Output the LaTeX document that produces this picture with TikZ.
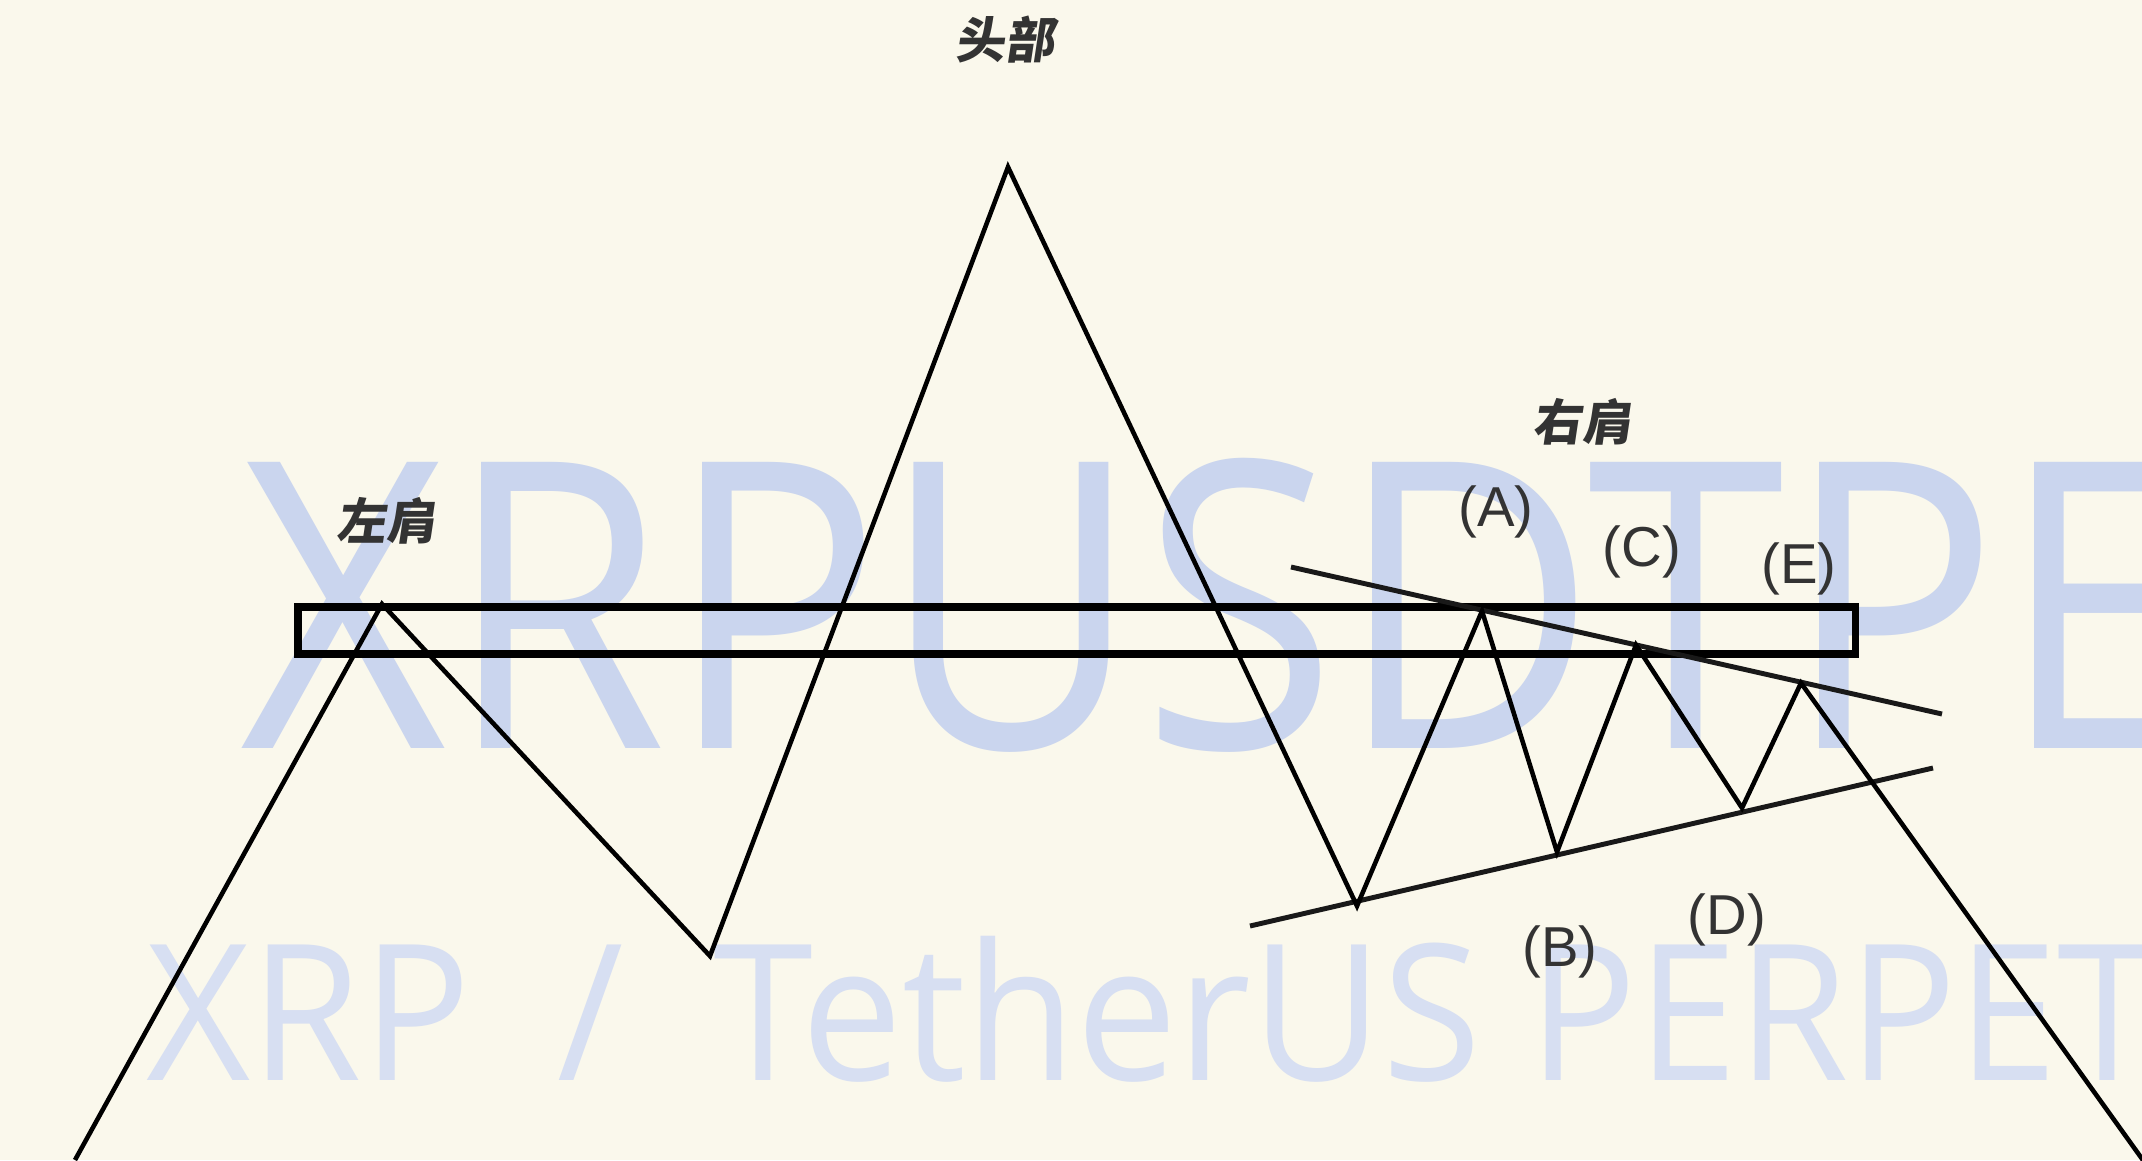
\documentclass[tikz,border=0pt]{standalone}
\usepackage{fontspec}
\setmainfont{Liberation Sans}
\newfontfamily\cjkfont[FakeSlant=0.15]{Noto Sans CJK SC}
\newfontfamily\wmfont[FakeStretch=0.89]{Open Sans}
\newfontfamily\wmfontb[FakeStretch=0.95]{Open Sans}
\definecolor{bgcol}{RGB}{250,248,236}
\definecolor{wmA}{RGB}{202,213,238}
\definecolor{wmB}{RGB}{215,223,242}
\tikzset{
  wmbig/.style={inner sep=0pt, text=wmA, font=\wmfont\fontsize{114}{114}\selectfont},
  wmsmall/.style={inner sep=0pt, text=wmB, font=\wmfontb\fontsize{54}{54}\selectfont},
  cjklabel/.style={inner sep=0pt, font=\cjkfont\bfseries\fontsize{14}{16}\selectfont, text=black!80},
  ptlabel/.style={inner sep=0pt, font=\fontsize{16}{18}\selectfont, text=black!80},
  price/.style={line width=1.3pt, black, line join=miter},
  trend/.style={line width=1.4pt, black!90},
  zone/.style={line width=2pt, black}
}
\begin{document}
\begin{tikzpicture}[x=0.01cm,y=-0.01cm]
\useasboundingbox (0,0) rectangle (2142,1160);
\fill[bgcol] (0,0) rectangle (2142,1160);
\begin{scope}
\clip (0,0) rectangle (2142,1160);
% watermark
\node[wmbig, anchor=base west] (wmtop) at (240,748) {XRPUSDTPERP};
\node[wmsmall, anchor=base west] (wmxrp) at (146,1080) {XRP};
\node[wmsmall, anchor=base] (wmslash) at (591,1080) {/};
\node[wmsmall, anchor=base west] (wmname) at (713,1080) {TetherUS PERPETUAL FUTURES};
% points
\coordinate (s0) at (75,1160);
\coordinate (ls) at (382,604);
\coordinate (t1) at (710,956);
\coordinate (hd) at (1008,167);
\coordinate (t2) at (1357,906);
\coordinate (pA) at (1482,611);
\coordinate (pB) at (1557,852);
\coordinate (pC) at (1636,645);
\coordinate (pD) at (1742,808);
\coordinate (pE) at (1801,683);
\coordinate (s1) at (2145,1163);
\coordinate (u0) at (1291,567);
\coordinate (u1) at (1942,714);
\coordinate (l0) at (1250,926);
\coordinate (l1) at (1933,768);
\coordinate (r0) at (298,607);
\coordinate (r1) at (1855,654);
% neckline zone
\draw[zone] (r0) rectangle (r1);
% trendlines
\draw[trend] (u0) -- (u1);
\draw[trend] (l0) -- (l1);
% price path
\draw[price] (s0) -- (ls) -- (t1) -- (hd) -- (t2) -- (pA) -- (pB) -- (pC) -- (pD) -- (pE) -- (s1);
\end{scope}
% labels
\node[cjklabel] (lhead) at (1005,40) {头部};
\node[cjklabel] (lls) at (386,521) {左肩};
\node[cjklabel] (lrs) at (1582,422) {右肩};
\node[ptlabel] (lA) at (1496,512) {(A)};
\node[ptlabel] (lC) at (1642,552) {(C)};
\node[ptlabel] (lE) at (1799,569) {(E)};
\node[ptlabel] (lB) at (1560,952) {(B)};
\node[ptlabel] (lD) at (1727,920) {(D)};
\end{tikzpicture}
\end{document}
